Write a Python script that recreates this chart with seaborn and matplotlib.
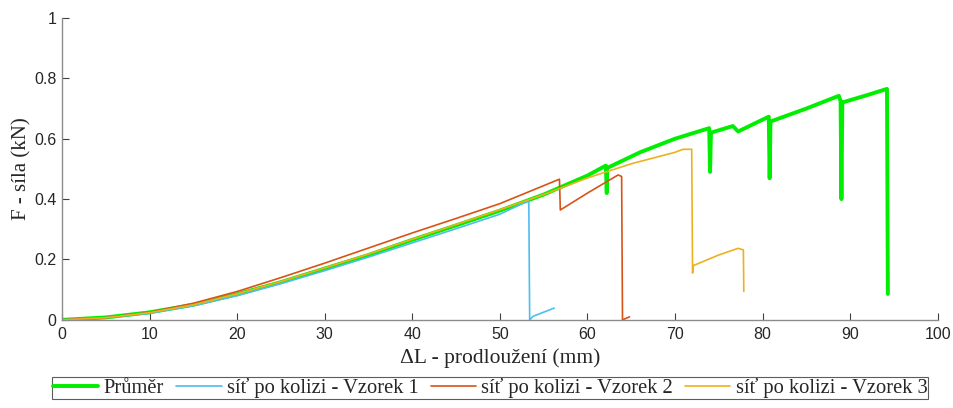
import numpy as np
import pandas as pd
import matplotlib
matplotlib.use("Agg")
import matplotlib.pyplot as plt
import seaborn as sns

# Values (deformation mm, force kN)
prumer_x = [0, 5, 10, 15, 20, 25, 30, 35, 40, 45, 50, 55, 60, 62.1, 62.2, 62.25,
            66, 70, 73.9, 74.0, 74.1, 76.6, 77.2, 80.7, 80.8, 80.9, 85, 88.7,
            88.9, 89.0, 89.1, 92, 94.2, 94.3]
prumer_y = [0, 0.008, 0.025, 0.05, 0.085, 0.125, 0.17, 0.215, 0.265, 0.313,
            0.362, 0.415, 0.478, 0.511, 0.42, 0.503, 0.555, 0.6, 0.635, 0.49,
            0.62, 0.642, 0.624, 0.673, 0.469, 0.657, 0.7, 0.742, 0.725, 0.40,
            0.72, 0.745, 0.765, 0.086]

vzorek1_x = [0, 5, 10, 15, 20, 25, 30, 35, 40, 45, 50, 53.3, 53.4, 53.8, 56.2]
vzorek1_y = [0, 0.007, 0.022, 0.047, 0.08, 0.12, 0.163, 0.208, 0.255, 0.302,
             0.35, 0.395, 0.0, 0.012, 0.039]

vzorek2_x = [0, 5, 10, 15, 20, 25, 30, 35, 40, 45, 50, 56.8, 56.9, 60, 63.5,
             63.9, 64.0, 64.8]
vzorek2_y = [0, 0.007, 0.025, 0.055, 0.094, 0.14, 0.188, 0.238, 0.288, 0.336,
             0.385, 0.466, 0.364, 0.42, 0.48, 0.475, 0.0, 0.01]

vzorek3_x = [0, 5, 10, 15, 20, 25, 30, 35, 40, 45, 50, 55, 60, 65, 70, 70.9,
             71.9, 72.0, 72.1, 75, 77.2, 77.8, 77.85]
vzorek3_y = [0, 0.007, 0.024, 0.05, 0.086, 0.127, 0.172, 0.218, 0.267, 0.316,
             0.365, 0.415, 0.47, 0.517, 0.555, 0.565, 0.565, 0.155, 0.18, 0.215,
             0.237, 0.232, 0.094]

series = [
    ("Průměr", prumer_x, prumer_y, "#00EE00", 2.8),
    ("síť po kolizi - Vzorek 1", vzorek1_x, vzorek1_y, "#4DBEEE", 1.2),
    ("síť po kolizi - Vzorek 2", vzorek2_x, vzorek2_y, "#D95319", 1.2),
    ("síť po kolizi - Vzorek 3", vzorek3_x, vzorek3_y, "#EDB120", 1.2),
]

sns.set_style("white")
plt.rcParams['font.family'] = ['Liberation Sans', 'DejaVu Sans']

fig = plt.figure(figsize=(9.54, 4.08), dpi=100)
ax = fig.add_axes([0.065, 0.216, 0.918, 0.740])

for name, xs, ys, color, lw in series:
    df = pd.DataFrame({"x": xs, "y": ys})
    sns.lineplot(data=df, x="x", y="y", ax=ax, sort=False, estimator=None,
                 color=color, linewidth=lw, label=name)

ax.set_xlim(0, 100)
ax.set_ylim(0, 1)
ax.set_xticks(np.arange(0, 101, 10))
ax.set_yticks([0, 0.2, 0.4, 0.6, 0.8, 1])
ax.set_yticklabels(["0", "0.2", "0.4", "0.6", "0.8", "1"])

for side in ["top", "right"]:
    ax.spines[side].set_visible(False)
for side in ["left", "bottom"]:
    ax.spines[side].set_color("#8c8c8c")
    ax.spines[side].set_linewidth(1.0)
ax.tick_params(bottom=True, left=True, direction="in", length=5, width=0.8,
               color="#404040", labelsize=11.5, labelcolor="#262626")
ax.tick_params(axis="x", pad=5)
ax.tick_params(axis="y", pad=4)

serif = ['Liberation Serif', 'DejaVu Serif']
ax.set_xlabel("ΔL - prodloužení (mm)", family=serif, fontsize=15.5, color="#262626",
              labelpad=5)
ax.set_ylabel("F - síla (kN)", family=serif, fontsize=15, color="#262626",
              labelpad=2)

leg = ax.legend(loc="upper center", bbox_to_anchor=(0.489, -0.19), ncol=4,
                frameon=True, fancybox=False, edgecolor="#333333",
                prop={'family': serif, 'size': 14.8}, handlelength=2.2,
                handletextpad=0.25, columnspacing=0.6, borderpad=0.05,
                borderaxespad=0)
leg.get_frame().set_linewidth(0.8)

fig.savefig("out.png", dpi=100)
